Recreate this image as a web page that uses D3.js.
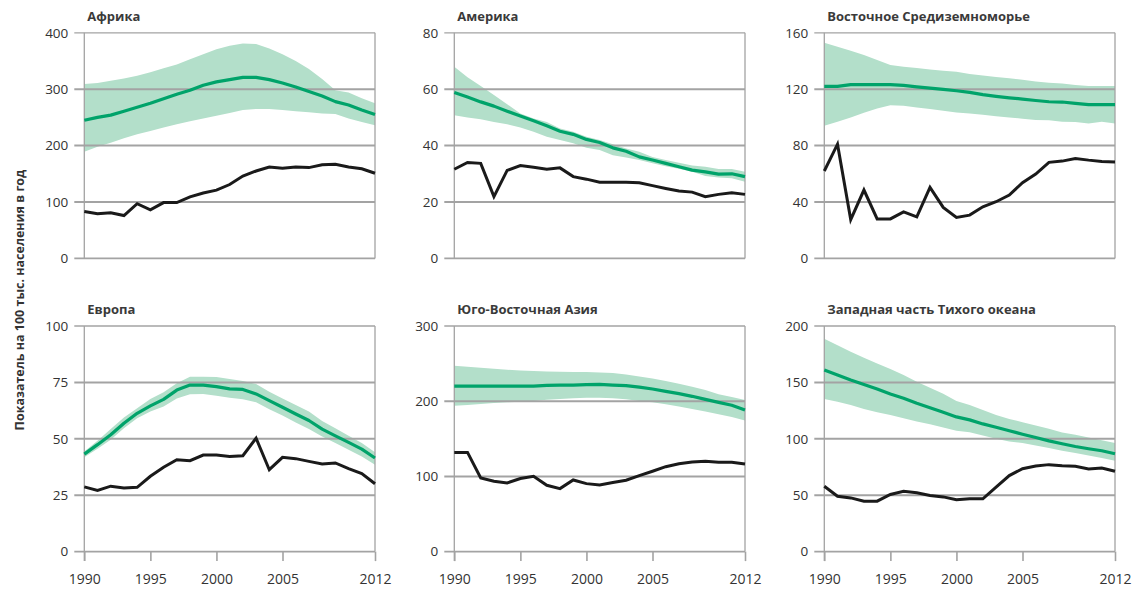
<!DOCTYPE html>
<html><head><meta charset="utf-8">
<script src="https://cdn.jsdelivr.net/npm/d3@7"></script>
<style>
html,body{margin:0;padding:0;background:#fff;}
svg{display:block;font-family:"Open Sans","Noto Sans",sans-serif;}
</style></head>
<body><svg id="chart" width="1143" height="596"></svg>
<script>
const years = d3.range(1990, 2013);
const xTickYears = [1990, 1995, 2000, 2005, 2012];
const titles = ["Африка", "Америка", "Восточное Средиземноморье", "Европа", "Юго-Восточная Азия", "Западная часть Тихого океана"];
const yMaxes = [400, 80, 160, 100, 300, 200];
const yTickSets = [[0,100,200,300,400],[0,20,40,60,80],[0,40,80,120,160],[0,25,50,75,100],[0,100,200,300],[0,50,100,150,200]];
const yLabel = "Показатель на 100 тыс. населения в год";

// Africa
const africaObs = [83,79,81,76,97,86,99,99,109,116,121,131,146,155,162,160,162,161,166,167,162,159,151];
const africaEst = [245,250,254,261,268,275,283,291,298,307,313,317,321,321,317,311,304,296,288,278,272,263,255];
const africaHi  = [309,311,315,319,324,330,337,344,353,362,371,377,381,380,372,362,350,336,318,298,294,284,275];
const africaLo  = [189,198,205,213,220,226,232,238,243,248,253,258,263,265,265,263,261,259,257,256,248,242,236];
// America
const americaObs = [31.6,34,33.7,21.9,31.2,32.9,32.3,31.6,32.1,29,28.1,27,27,27,26.8,25.8,24.8,23.9,23.5,21.9,22.7,23.3,22.7];
const americaEst = [58.8,57.2,55.5,54,52.2,50.5,48.8,47,45.1,44,42.2,41.1,39.2,38,36,34.9,33.7,32.5,31.3,30.7,29.9,30,29];
const americaHi  = [68,64.2,61.1,57.9,54.7,51.4,49.6,48.4,46.1,44.9,43.1,42,40.5,39,37.8,36,34.9,33.9,32.9,32.5,31.7,31.7,30.7];
const americaLo  = [50.8,50,49.3,48.4,47.6,46.4,44.9,43.1,42,40.8,39.2,38.4,36.6,35.8,34.9,33.7,32.7,31.8,30.7,29.2,28.7,28.4,27.2];
// Eastern Mediterranean
const emedObs = [62,81,27.5,48.5,28,28,33,29.5,50.4,36.2,29,30.7,36.6,40.2,44.9,53.7,59.8,68.1,69,70.9,69.7,68.8,68.3];
const emedEst = [122,122,123.2,123.2,123.2,123.2,122.7,121.7,120.8,119.9,118.9,117.7,116.1,114.9,113.9,113,112,111.1,110.9,109.9,109,109,109];
const emedHi  = [153,150.1,147.3,144.2,140.7,137.1,135.9,135,134,133.1,132.4,130.7,129.8,128.6,127.7,126.7,125.5,124.6,124.1,122.9,122.2,122.2,122.2];
const emedLo  = [94.1,96.9,100,103.3,106.4,108.7,108.3,107.1,105.9,104.7,103.5,102.8,101.9,100.9,100,99,98.1,97.9,96.9,96.7,95.7,96.9,95.7];
// Europe
const europeObs = [28.7,27.1,29,28.2,28.5,33.4,37.4,40.7,40.3,42.8,42.8,42.2,42.5,50.3,36.3,41.8,41.2,40,38.8,39.3,36.8,34.6,30.1];
const europeEst = [43.2,47.4,51.8,56.9,61.3,64.6,67.5,71.6,73.8,73.8,73.1,72.1,71.9,69.9,66.9,64,61,58.1,54.3,51.3,48.4,45.4,41.5];
const europeHi  = [44.4,49.1,54.3,59.4,63.5,67.6,70.6,74.6,77.5,77.5,77.4,76.5,75.6,74.3,70.9,67.9,65,62.1,57.9,54.7,51.3,48.1,44];
const europeLo  = [41.8,45.6,49.6,54.7,59.1,62.1,64.3,67.9,69.7,69.9,69.1,68.2,67.5,66.2,63.1,60.3,57.2,54.3,51,48.1,45.1,42.2,38.5];
// South-East Asia
const seaObs = [131.9,131.9,97.9,93.5,91.3,97.1,100.1,88.2,83.8,95.3,90.4,88.7,91.8,94.9,101,106.8,112.9,116.9,119.1,120,118.7,118.7,116.5];
const seaEst = [220,220,220,220,220,220,220,221,221.5,221.5,222,222.4,221.5,220.6,218.8,216.2,213.1,210,206.5,202.5,198.5,194.6,188.4];
const seaHi  = [247,245.7,244.4,243.1,241.8,240.9,240,239.6,239.1,238.7,238.7,238.2,237.4,235.6,232.9,230.3,226.8,223.2,219.3,214.9,209.1,205.6,201.6];
const seaLo  = [194.1,195,196.3,197.6,198.5,199.4,200.3,202,202.9,203.8,204.7,204.7,203.8,202.5,200.3,198.5,195.9,192.8,189.7,186.2,182.6,179.1,174.3];
// Western Pacific
const wpacObs = [57.9,49.1,47.6,44.7,44.7,50.6,53.5,52.1,49.7,48.5,45.9,46.8,46.8,57.1,67.4,73.5,75.9,77.1,76.2,75.6,73.2,74.1,71.2];
const wpacEst = [160.9,156.5,152.1,148.2,144.1,139.7,135.9,131.5,127.6,123.5,119.4,116.8,113.2,110.3,107.1,104.1,101.2,98.2,95.6,93.2,91.2,89.4,86.8];
const wpacHi  = [188.8,182.9,177.1,171.8,166.8,161.8,156.5,150.6,145.3,140,133.5,130,125.6,121.2,117.6,114.7,111.8,108.8,105.6,103.5,101.2,98.8,96.2];
const wpacLo  = [135.3,132.9,130,126.5,123.5,121.2,118.2,115.3,112.9,110,107.1,105.9,102.9,100,97.6,96.2,94.1,91.8,89.4,87.4,85.3,82.9,80.6];

const obsSets = [africaObs, americaObs, emedObs, europeObs, seaObs, wpacObs];
const estSets = [africaEst, americaEst, emedEst, europeEst, seaEst, wpacEst];
const hiSets  = [africaHi, americaHi, emedHi, europeHi, seaHi, wpacHi];
const loSets  = [africaLo, americaLo, emedLo, europeLo, seaLo, wpacLo];

const svg = d3.select("#chart");
const lefts = [84.3, 454.3, 824.3];
const tops = [32.8, 326];
const W = 290.7, H = 225.6;
const gridColor = "#a3a3a3";
const textColor = "#333";
const fontFam = '"Open Sans","Noto Sans",sans-serif';

svg.append("text")
  .attr("transform", `translate(24,${300}) rotate(-90)`)
  .attr("text-anchor", "middle")
  .attr("font-size", 12.5).attr("font-weight", 700).attr("fill", textColor)
  .text(yLabel);

titles.forEach((title, i) => {
  const col = i % 3, row = Math.floor(i / 3);
  const g = svg.append("g").attr("transform", `translate(${lefts[col]},${tops[row]})`);
  const x = d3.scaleLinear().domain([1990, 2012]).range([0, W]);
  const y = d3.scaleLinear().domain([0, yMaxes[i]]).range([H, 0]);
  const rows = years.map((yr, k) => ({yr, obs: obsSets[i][k], est: estSets[i][k], hi: hiSets[i][k], lo: loSets[i][k]}));

  // band
  g.append("path").datum(rows)
    .attr("fill", "#b3dfca")
    .attr("d", d3.area().x(d => x(d.yr)).y0(d => y(d.lo)).y1(d => y(d.hi)));

  // gridlines (interior thicker)
  const ticks = yTickSets[i];
  ticks.forEach(t => {
    const interior = t !== 0 && t !== yMaxes[i];
    g.append("line")
      .attr("x1", -10).attr("x2", W)
      .attr("y1", y(t)).attr("y2", y(t))
      .attr("stroke", gridColor)
      .attr("stroke-width", interior ? 2 : (t === 0 ? 1.6 : 1.3));
  });
  // left & right vertical
  g.append("line").attr("x1", 0).attr("x2", 0).attr("y1", 0).attr("y2", H + (row === 1 ? 9.5 : 0))
    .attr("stroke", gridColor).attr("stroke-width", 1.3);
  g.append("line").attr("x1", W).attr("x2", W).attr("y1", 0).attr("y2", H)
    .attr("stroke", gridColor).attr("stroke-width", 1.3);

  // y labels
  const yAxis = d3.axisLeft(y).tickValues(ticks).tickSize(0).tickPadding(16);
  const ya = g.append("g").call(yAxis);
  ya.select(".domain").remove();
  ya.selectAll("text").attr("font-size", 13.5).attr("fill", textColor)
    .attr("font-family", fontFam);

  // x axis on bottom row
  if (row === 1) {
    const xAxis = d3.axisBottom(x).tickValues(xTickYears).tickFormat(d3.format("d")).tickSize(9.5).tickPadding(13);
    const xa = g.append("g").attr("transform", `translate(0,${H})`).call(xAxis);
    xa.select(".domain").remove();
    xa.selectAll("line").attr("stroke", gridColor).attr("stroke-width", 1.6);
    xa.selectAll("text").attr("font-size", 14).attr("fill", textColor)
      .attr("font-family", fontFam);
  }

  // estimate line
  g.append("path").datum(rows)
    .attr("fill", "none").attr("stroke", "#00a36a").attr("stroke-width", 3.2)
    .attr("stroke-linejoin", "round")
    .attr("d", d3.line().x(d => x(d.yr)).y(d => y(d.est)));
  // observed line
  g.append("path").datum(rows)
    .attr("fill", "none").attr("stroke", "#1a1a1a").attr("stroke-width", 3)
    .attr("stroke-linejoin", "miter")
    .attr("d", d3.line().x(d => x(d.yr)).y(d => y(d.obs)));

  // title
  g.append("text").attr("x", 3).attr("y", -12)
    .attr("font-size", 13).attr("font-weight", 700).attr("fill", "#3a3a3a")
    .text(title);
});
</script></body></html>
